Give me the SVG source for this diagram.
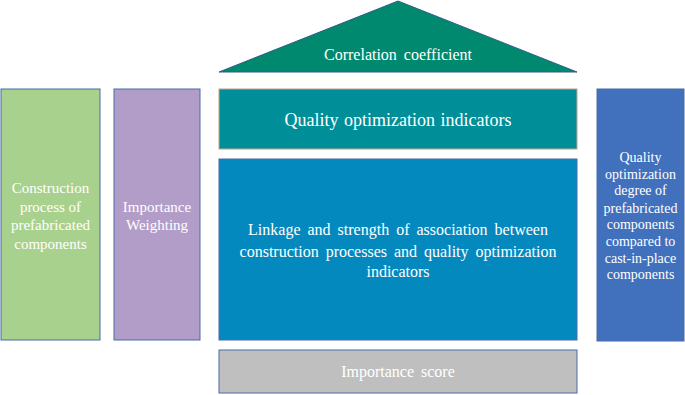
<svg xmlns="http://www.w3.org/2000/svg" width="685" height="395" viewBox="0 0 685 395">
<style>
text{fill:#ffffff;text-anchor:middle;}
.s15{font-size:15px;}
.s14{font-size:14px;}
.s16{font-size:16px;word-spacing:3px;}
.s18{font-size:18px;word-spacing:1px;}
.box{stroke:#4a6aa8;stroke-width:1;}
</style>
<rect width="685" height="395" fill="#ffffff"/>
<g font-family="Liberation Serif, DejaVu Serif, serif">
<g id="triangle">
<polygon points="219,72 398,1 577,72" fill="#00896f" stroke="#2e5c8a" stroke-width="1"/>
<text class="s16" x="398" y="60">Correlation coefficient</text>
</g>
<g id="construction">
<rect class="box" x="1" y="89" width="99" height="251" fill="#a9d18e"/>
<text class="s15" x="50.5" y="193">Construction</text>
<text class="s15" x="50.5" y="212">process of</text>
<text class="s15" x="50.5" y="230">prefabricated</text>
<text class="s15" x="50.5" y="249">components</text>
</g>
<g id="weighting">
<rect class="box" x="114" y="89" width="86" height="251" fill="#b29dc9"/>
<text class="s15" x="157" y="212">Importance</text>
<text class="s15" x="157" y="230">Weighting</text>
</g>
<g id="indicators">
<rect x="219" y="89" width="358" height="60" fill="#008f99" stroke="#c9a08a" stroke-width="1"/>
<text class="s18" x="398" y="126">Quality optimization indicators</text>
</g>
<g id="linkage">
<rect class="box" x="219" y="159" width="358" height="181" fill="#0489bf"/>
<text class="s16" x="398" y="235">Linkage and strength of association between</text>
<text class="s16" x="398" y="257">construction processes and quality optimization</text>
<text class="s16" x="398" y="277">indicators</text>
</g>
<g id="score">
<rect class="box" x="219" y="350" width="358" height="43" fill="#bfbfbf"/>
<text class="s16" x="398" y="377">Importance score</text>
</g>
<g id="degree">
<rect class="box" x="597" y="89" width="87" height="252" fill="#4170bd"/>
<text class="s14" x="640.5" y="162">Quality</text>
<text class="s14" x="640.5" y="179">optimization</text>
<text class="s14" x="640.5" y="195">degree of</text>
<text class="s14" x="640.5" y="213">prefabricated</text>
<text class="s14" x="640.5" y="229">components</text>
<text class="s14" x="640.5" y="246">compared to</text>
<text class="s14" x="640.5" y="263">cast-in-place</text>
<text class="s14" x="640.5" y="279">components</text>
</g>
</g>
<g id="connectors"></g>
</svg>
